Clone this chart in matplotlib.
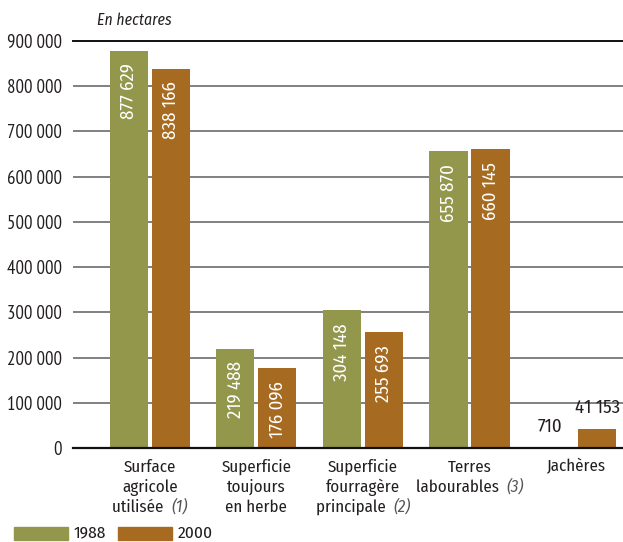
import matplotlib
matplotlib.use("Agg")
import matplotlib.pyplot as plt
from matplotlib.patches import Rectangle

plt.rcParams['font.family'] = ['Fira Sans Condensed', 'DejaVu Sans']

categories = [
    [["Surface"], ["agricole"], ["utilisée ", ("(1)", True)]],
    [["Superficie"], ["toujours"], ["en herbe"]],
    [["Superficie"], ["fourragère"], ["principale ", ("(2)", True)]],
    [["Terres"], ["labourables ", ("(3)", True)]],
    [["Jachères"]],
]
years = ["1988", "2000"]
values_1988 = [877629, 219488, 304148, 655870, 710]
values_2000 = [838166, 176096, 255693, 660145, 41153]
yticks = [0, 100000, 200000, 300000, 400000, 500000, 600000, 700000, 800000, 900000]

GREEN = "#93974c"
BROWN = "#a66a20"
TXT = "#231f20"
GRID = "#808080"

def fmt(v):
    return f"{v:,}".replace(",", " ")

fig = plt.figure(figsize=(6.23, 5.42), dpi=100)
ax = fig.add_axes([73 / 623, (542 - 448) / 542, 1 - 73 / 623, (448 - 41) / 542])

ax.set_ylim(0, 900000)
ax.set_xlim(-0.72, 4.44)

for y in yticks[1:-1]:
    ax.axhline(y, color=GRID, lw=1.4, zorder=0)
ax.axhline(900000, color="#111111", lw=1.4, zorder=0, clip_on=False)
ax.axhline(0, color="#111111", lw=1.6, zorder=3, clip_on=False)

for s in ax.spines.values():
    s.set_visible(False)

xs = list(range(len(values_1988)))
w = 0.357
off = 0.197
b1 = ax.bar([x - off for x in xs], values_1988, width=w, color=GREEN, zorder=2)
b2 = ax.bar([x + off for x in xs], values_2000, width=w, color=BROWN, zorder=2)

for bars, vals in ((b1, values_1988), (b2, values_2000)):
    for rect, v in zip(bars, vals):
        cx = rect.get_x() + rect.get_width() / 2
        if v > 100000:
            ax.annotate(fmt(v), (cx, v), xytext=(0, -9), textcoords="offset points",
                        rotation=90, ha="center", va="top", color="white",
                        fontsize=13.5, zorder=4)
        else:
            ax.annotate(fmt(v), (cx, v), xytext=(-4 if v < 1000 else 0, 9),
                        textcoords="offset points", ha="center", va="bottom",
                        color=TXT, fontsize=13.5, zorder=4, annotation_clip=False)

ax.set_yticks(yticks)
ax.set_yticklabels([fmt(t) for t in yticks], fontsize=13.5, color=TXT,
                   family=['PT Sans Narrow', 'DejaVu Sans'])
ax.tick_params(axis="y", length=0, pad=8)
ax.tick_params(axis="x", length=0, labelbottom=False)

fig.text(97 / 623, 1 - 20 / 542, "En hectares", fontsize=11.3, style="italic",
         color=TXT, va="center", ha="left")

# Category labels, built line by line so the footnote marks can be italic
fig.canvas.draw()
renderer = fig.canvas.get_renderer()
line_h = 20
first_y = 467
for i, lines in enumerate(categories):
    cx_disp = ax.transData.transform((i, 0))[0]
    for j, segs in enumerate(lines):
        ypix = 542 - (first_y + j * line_h)
        pieces = []
        for seg in segs:
            if isinstance(seg, tuple):
                txt, it = seg
            else:
                txt, it = seg, False
            t = fig.text(0, ypix / 542, txt, fontsize=12.2,
                         style="italic" if it else "normal",
                         color="#555555" if it else TXT,
                         ha="left", va="center")
            pieces.append(t)
        widths = [p.get_window_extent(renderer).width for p in pieces]
        # trailing space is not measured; add it explicitly
        space = 3.5 if len(pieces) > 1 else 0
        total = sum(widths) + space * (len(pieces) - 1)
        x = cx_disp - total / 2
        for p, wd in zip(pieces, widths):
            p.set_x(x / 623)
            x += wd + space

# Legend along the bottom
for x0, col, lab in ((14, GREEN, years[0]), (118, BROWN, years[1])):
    fig.patches.append(Rectangle((x0 / 623, (542 - 540) / 542), 54 / 623, 13 / 542,
                                 transform=fig.transFigure, color=col))
    fig.text((x0 + 60) / 623, (542 - 533) / 542, lab, fontsize=12.5, color=TXT,
             va="center", ha="left")

fig.savefig("out.png", dpi=100)
